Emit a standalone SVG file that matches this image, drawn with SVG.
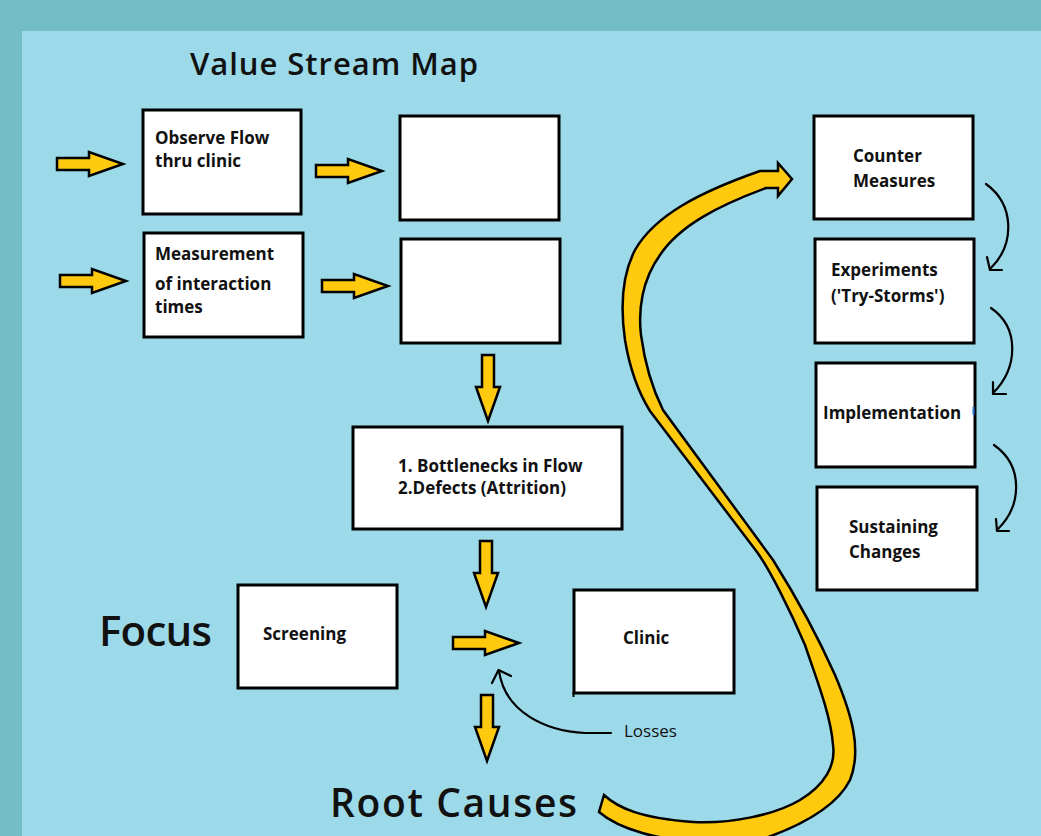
<svg xmlns="http://www.w3.org/2000/svg" xmlns:xlink="http://www.w3.org/1999/xlink" width="1041" height="836" viewBox="0 0 1041 836">
  <style>
    .box { fill: #ffffff; stroke: #000000; stroke-width: 3; }
    .blk { fill: #ffc90e; stroke: #000000; stroke-width: 2.5; stroke-linejoin: miter; }
    .thin { fill: none; stroke: #000000; stroke-width: 2.2; stroke-linecap: round; stroke-linejoin: round; }
    .lbl { font-family: "Open Sans", "Noto Sans", "Liberation Sans", sans-serif; font-weight: bold; font-size: 17px; fill: #111111; }
    .big { font-family: "Open Sans", "Noto Sans", "Liberation Sans", sans-serif; font-weight: 600; fill: #111111; }
    .plain { font-family: "Open Sans", "Noto Sans", "Liberation Sans", sans-serif; font-weight: normal; font-size: 17px; fill: #111111; }
  </style>
  <defs>
    <!-- block arrow pointing right, tip at the origin -->
    <path id="blockArrow" class="blk" d="M -66 -6 L -34 -6 L -34 -12 L 0 0 L -34 12 L -34 6 L -66 6 Z"/>
  </defs>

  <!-- frame -->
  <rect x="0" y="0" width="1041" height="836" fill="#73bec5"/>
  <rect x="22" y="31" width="1019" height="805" fill="#9cd9e9"/>

  <!-- headings -->
  <text class="big" x="190" y="75" font-size="31" textLength="288">Value Stream Map</text>
  <text class="big" x="99" y="646" font-size="42" textLength="113">Focus</text>
  <text class="big" x="330" y="817" font-size="39" textLength="247" font-weight="500">Root Causes</text>

  <!-- nodes -->
  <g id="observe-flow">
    <rect class="box" x="143" y="110" width="158" height="104"/>
    <text class="lbl" x="155" y="144">Observe Flow</text>
    <text class="lbl" x="155" y="167">thru clinic</text>
  </g>
  <g id="flow-result">
    <rect class="box" x="400" y="116" width="159" height="104"/>
  </g>
  <g id="measurement">
    <rect class="box" x="144" y="233" width="159" height="104"/>
    <text class="lbl" x="155" y="260">Measurement</text>
    <text class="lbl" x="155" y="290">of interaction</text>
    <text class="lbl" x="155" y="313">times</text>
  </g>
  <g id="measurement-result">
    <rect class="box" x="401" y="239" width="159" height="104"/>
  </g>
  <g id="bottlenecks">
    <rect class="box" x="353" y="427" width="269" height="102"/>
    <text class="lbl" x="398" y="472">1. Bottlenecks in Flow</text>
    <text class="lbl" x="398" y="494">2.Defects (Attrition)</text>
  </g>
  <g id="screening">
    <rect class="box" x="238" y="585" width="159" height="103"/>
    <text class="lbl" x="263" y="640">Screening</text>
  </g>
  <g id="clinic">
    <rect class="box" x="574" y="590" width="160" height="103"/>
    <line x1="573.5" y1="692" x2="573.5" y2="697" stroke="#000" stroke-width="2"/>
    <text class="lbl" x="623" y="644">Clinic</text>
  </g>
  <g id="counter-measures">
    <rect class="box" x="814" y="116" width="159" height="103"/>
    <text class="lbl" x="853" y="162">Counter</text>
    <text class="lbl" x="853" y="187">Measures</text>
  </g>
  <g id="experiments">
    <rect class="box" x="815" y="239" width="159" height="104"/>
    <text class="lbl" x="831" y="276">Experiments</text>
    <text class="lbl" x="831" y="302">('Try-Storms')</text>
  </g>
  <g id="implementation">
    <rect class="box" x="816" y="363" width="159" height="104"/>
    <text class="lbl" x="823" y="419">Implementation</text>
    <line x1="973.5" y1="407" x2="973.5" y2="415" stroke="#2a7bd0" stroke-width="2"/>
  </g>
  <g id="sustaining-changes">
    <rect class="box" x="817" y="487" width="160" height="103"/>
    <text class="lbl" x="849" y="533">Sustaining</text>
    <text class="lbl" x="849" y="558">Changes</text>
  </g>

  <!-- connectors -->
  <g id="connectors">
    <use xlink:href="#blockArrow" transform="translate(123,164)"/>
    <use xlink:href="#blockArrow" transform="translate(382,171)"/>
    <use xlink:href="#blockArrow" transform="translate(126,281)"/>
    <use xlink:href="#blockArrow" transform="translate(388,286)"/>
    <use xlink:href="#blockArrow" transform="translate(519,643)"/>
    <use xlink:href="#blockArrow" transform="translate(488,421) rotate(90)"/>
    <use xlink:href="#blockArrow" transform="translate(486,607) rotate(90)"/>
    <use xlink:href="#blockArrow" transform="translate(487,761) rotate(90)"/>

    <!-- losses feeding back into the flow -->
    <path class="thin" d="M 611 733 L 585 733 C 545 731, 505 712, 499 671"/>
    <path class="thin" d="M 492 683 L 498.5 670 L 511 676"/>
    <text class="plain" x="624" y="737">Losses</text>

    <!-- step-to-step arrows on the right -->
    <path class="thin" d="M 986 184 C 1015 205, 1015 245, 990 269"/>
    <path class="thin" d="M 987 257 L 990 270 L 1002 270"/>
    <path class="thin" d="M 991 308 C 1020 328, 1018 368, 993 393"/>
    <path class="thin" d="M 993 382 L 993 394 L 1006 394"/>
    <path class="thin" d="M 994 445 C 1024 466, 1022 506, 997 530"/>
    <path class="thin" d="M 996 519 L 997 531 L 1009 531"/>

    <!-- big sweep from root causes up to counter measures -->
    <path class="blk" d="M 604 795
      C 618 808, 640 818, 693 822
      C 730 824, 775 815, 800 800
      C 825 785, 836 765, 833 745
      C 831 715, 815 675, 805 645
      C 790 610, 770 570, 757 552
      L 650 411
      C 640 395, 630 370, 625 340
      C 620 305, 622 275, 635 250
      C 655 215, 700 192, 760 171
      L 778 171 L 778 163 L 792 179 L 778 196 L 778 188 L 766 188
      C 720 205, 680 225, 660 255
      C 642 280, 638 310, 641 335
      C 645 365, 653 390, 663 410
      L 773 560
      C 795 595, 815 630, 835 675
      C 852 715, 862 750, 850 780
      C 835 810, 795 828, 760 840
      L 700 842
      C 660 840, 620 830, 599 812 Z"/>
  </g>
</svg>
